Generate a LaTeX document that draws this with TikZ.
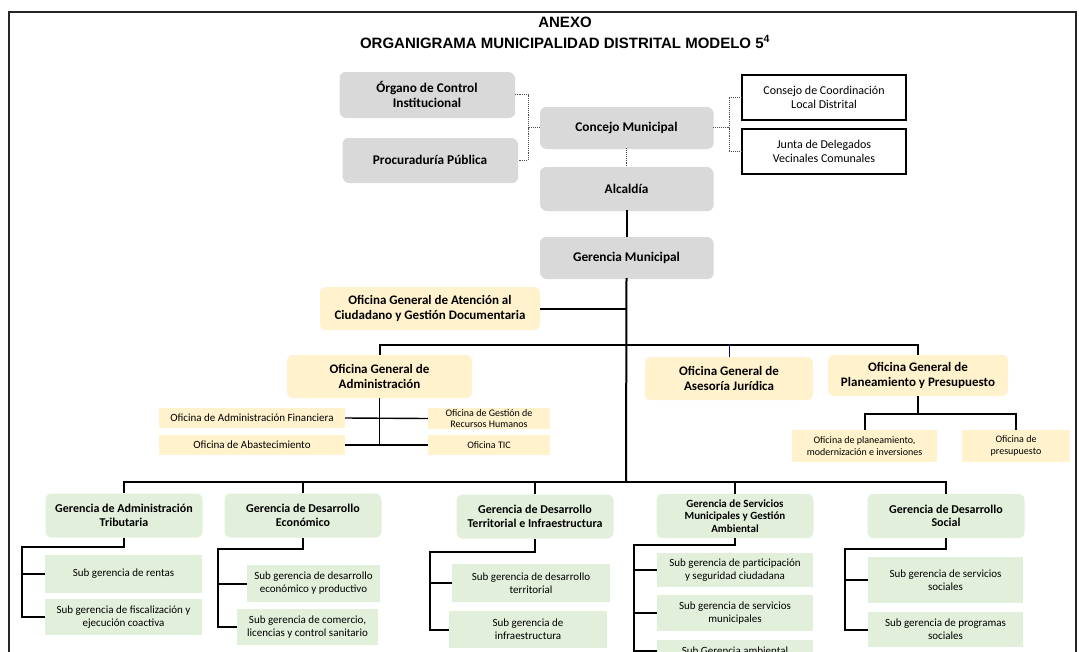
\documentclass[tikz,border=0pt]{standalone}
\usepackage{fontspec}
\setmainfont{Carlito}
\newfontfamily\titlefont{Liberation Sans}
\usepackage{tikz}
\usetikzlibrary{arrows,shapes,shadows}
\definecolor{boxgrey}{HTML}{D9D9D9}
\definecolor{boxyellow}{HTML}{FFF2CC}
\definecolor{boxgreen}{HTML}{E2EFDA}
\tikzstyle{greybox}=[rounded corners=6pt,fill=boxgrey,align=center,inner sep=1pt,font=\fontsize{13.3}{15}\selectfont\bfseries,drop shadow={shadow xshift=0.6pt,shadow yshift=-1pt,fill=black!25,opacity=0.6}]
\tikzstyle{whitebox}=[draw=black,line width=1.2pt,fill=white,align=center,inner sep=1pt,font=\fontsize{12}{14}\selectfont,drop shadow={shadow xshift=1.2pt,shadow yshift=-1.2pt,fill=black,opacity=1}]
\tikzstyle{yellowbox}=[rounded corners=6pt,fill=boxyellow,align=center,inner sep=1pt,font=\fontsize{13}{15}\selectfont\bfseries]
\tikzstyle{yellowrect}=[fill=boxyellow,align=center,inner sep=1pt,font=\fontsize{10}{11.5}\selectfont]
\tikzstyle{greenbox}=[rounded corners=6pt,fill=boxgreen,align=center,inner sep=1pt,font=\fontsize{12}{13.5}\selectfont\bfseries]
\tikzstyle{greenrect}=[fill=boxgreen,align=center,inner sep=1pt,font=\fontsize{11}{13}\selectfont]
\tikzstyle{link} = [draw,line width=2pt,-]
\tikzstyle{thinlink} = [draw,line width=1.4pt,-]
\tikzstyle{dotlink} = [draw,densely dotted,line width=0.9pt,black!70]

\begin{document}
\begin{tikzpicture}[x=1pt,y=-1pt]
    \useasboundingbox (0,0) rectangle (1079,651);
    \clip (0,0) rectangle (1079,651);
    % Frame and title
    \draw[line width=1.6pt,black!85] (9,660) -- (9,12) -- (1076,12) -- (1076,660);
    \node[font=\titlefont\fontsize{15}{17}\selectfont\bfseries] (anexo) at (565,22) {ANEXO};
    \node[font=\titlefont\fontsize{15}{17}\selectfont\bfseries] (titulo) at (565,42) {ORGANIGRAMA MUNICIPALIDAD DISTRITAL MODELO 5\textsuperscript{4}};
    % First we draw the boxes of the council level
    \foreach \pos/\name/\w/\h/\txt in {{(427,94.5)/organo/175/45/{Órgano de Control\\Institucional}}, {(430,160)/procu/175/44/{Procuraduría Pública}},
        {(626.5,127.5)/concejo/173/41/{Concejo Municipal}}, {(626.5,188.5)/alcaldia/173/43/{Alcaldía}}, {(626.5,257.5)/gerencia/173/41/{Gerencia Municipal}}}
        \node[greybox,minimum width=\w pt,minimum height=\h pt] (\name) at \pos {\txt};
    \foreach \pos/\name/\txt in {{(824,97.5)/consejo/{Consejo de Coordinación\\Local Distrital}}, {(824,151.5)/junta/{Junta de Delegados\\Vecinales Comunales}}}
        \node[whitebox,minimum width=164pt,minimum height=45pt] (\name) at \pos {\txt};
    % Then the general offices
    \foreach \pos/\name/\w/\h/\txt in {{(430,308.5)/atencion/220/43/{Oficina General de Atención al\\Ciudadano y Gestión Documentaria}},
        {(379.5,376.5)/admin/185/43/{Oficina General de\\Administración}}, {(729,378.5)/juridica/168/43/{Oficina General de\\Asesoría Jurídica}},
        {(918,375.5)/planea/180/41/{Oficina General de\\Planeamiento y Presupuesto}}}
        \node[yellowbox,minimum width=\w pt,minimum height=\h pt] (\name) at \pos {\txt};
    \foreach \pos/\name/\txt in {{(252,418)/finan/{Oficina de Administración Financiera}}, {(252,445)/abast/{Oficina de Abastecimiento}}}
        \node[yellowrect,font=\fontsize{11}{12}\selectfont,minimum width=186pt,minimum height=20pt] (\name) at \pos {\txt};
    \foreach \pos/\name/\w/\h/\txt in {{(489,418.5)/rrhh/122/21/{Oficina de Gestión de\\Recursos Humanos}}, {(489,445)/tic/122/20/{Oficina TIC}},
        {(864.5,446)/planmod/145/32/{Oficina de planeamiento,\\modernización e inversiones}}, {(1016,446)/presup/108/32/{Oficina de\\presupuesto}}}
        \node[yellowrect,minimum width=\w pt,minimum height=\h pt] (\name) at \pos {\txt};
    % Then the managements and their sub managements
    \foreach \pos/\name/\txt in {{(124,515.5)/gat/{Gerencia de Administración\\Tributaria}}, {(303,515.5)/gde/{Gerencia de Desarrollo\\Económico}},
        {(535,516.5)/gdti/{Gerencia de Desarrollo\\Territorial e Infraestructura}}, {(946,516)/gds/{Gerencia de Desarrollo\\Social}}}
        \node[greenbox,minimum width=157pt,minimum height=44pt] (\name) at \pos {\txt};
    \node[greenbox,font=\fontsize{11}{12.5}\selectfont\bfseries,minimum width=157pt,minimum height=44pt] (gsmga) at (735,516) {Gerencia de Servicios\\Municipales y Gestión\\Ambiental};
    \foreach \pos/\name/\w/\h/\txt in {{(123.5,574)/rentas/157/38/{Sub gerencia de rentas}}, {(123.5,617)/fiscal/157/36/{Sub gerencia de fiscalización y\\ejecución coactiva}},
        {(313.5,583.5)/desecon/133/37/{Sub gerencia de desarrollo\\económico y productivo}}, {(307.5,627)/comercio/141/36/{Sub gerencia de comercio,\\licencias y control sanitario}},
        {(531,583)/desterr/158/38/{Sub gerencia de desarrollo\\territorial}}, {(528,629.5)/infra/158/37/{Sub gerencia de\\infraestructura}},
        {(735,570)/particip/156/34/{Sub gerencia de participación\\y seguridad ciudadana}}, {(735,613)/servmun/156/36/{Sub gerencia de servicios\\municipales}},
        {(735,651)/ambiental/156/22/{Sub Gerencia ambiental}},
        {(945.5,580)/servsoc/155/46/{Sub gerencia de servicios\\sociales}}, {(945.5,629.5)/progsoc/155/35/{Sub gerencia de programas\\sociales}}}
        \node[greenrect,minimum width=\w pt,minimum height=\h pt] (\name) at \pos {\txt};
    % Dotted lines round the council
    \coordinate (dl) at (528,127.5);
    \coordinate (dr) at (729,127.5);
    \path[dotlink] (organo.east) -| (dl) |- (procu.east);
    \path[dotlink] (concejo.west) -- (dl);
    \path[dotlink] (concejo.east) -- (dr);
    \path[dotlink] (consejo.west) -| (dr) |- (junta.west);
    \path[dotlink] (concejo.south) -- (alcaldia.north);
    % Main line
    \coordinate (spine) at (626,482);
    \coordinate (ogbar) at (626,345);
    \path[link] (alcaldia) -- (gerencia);
    \path[link] (gerencia.south) -- (spine);
    \path[link] (atencion.east) -- (atencion.east -| spine);
    \path[link] (admin.north) |- (planea.north |- ogbar) -- (planea.north);
    \path[draw,blue!45!black,line width=0.8pt] (juridica.north) -- (juridica.north |- ogbar);
    % Offices under the general offices
    \coordinate (admbot) at (admin.south |- tic.west);
    \coordinate (plbar) at (918,414);
    \path[thinlink] (admin.south) -- (admbot);
    \path[thinlink] (finan.east) -- (rrhh.west);
    \path[thinlink] (abast.east) -- (tic.west);
    \path[link] (planea.south) -- (plbar);
    \path[link] (planmod.north) |- (plbar) -| (presup.north);
    % Managements
    \path[link] (gat.north) |- (spine) -| (gds.north);
    \path[link] (gde.north) -- (gde.north |- spine);
    \path[link] (gdti.north) -- (gdti.north |- spine);
    \path[link] (gsmga.north) -- (gsmga.north |- spine);
    \coordinate (vgat) at (22,547);
    \coordinate (vgde) at (218,549);
    \coordinate (vgdti) at (430,552);
    \coordinate (vgsmga) at (634,545);
    \coordinate (vgds) at (845,549);
    % Sub managements
    \path[link] (gat.south) |- (vgat) |- (fiscal.west);
    \path[link] (rentas.west) -- (rentas.west -| vgat);
    \path[link] (gde.south) |- (vgde) |- (comercio.west);
    \path[link] (desecon.west) -- (desecon.west -| vgde);
    \path[link] (gdti.south) |- (vgdti) |- (infra.west);
    \path[link] (desterr.west) -- (desterr.west -| vgdti);
    \path[link] (gsmga.south) |- (vgsmga) |- (ambiental.west);
    \path[link] (particip.west) -- (particip.west -| vgsmga);
    \path[link] (servmun.west) -- (servmun.west -| vgsmga);
    \path[link] (gds.south) |- (vgds) |- (progsoc.west);
    \path[link] (servsoc.west) -- (servsoc.west -| vgds);
\end{tikzpicture}
\end{document}
